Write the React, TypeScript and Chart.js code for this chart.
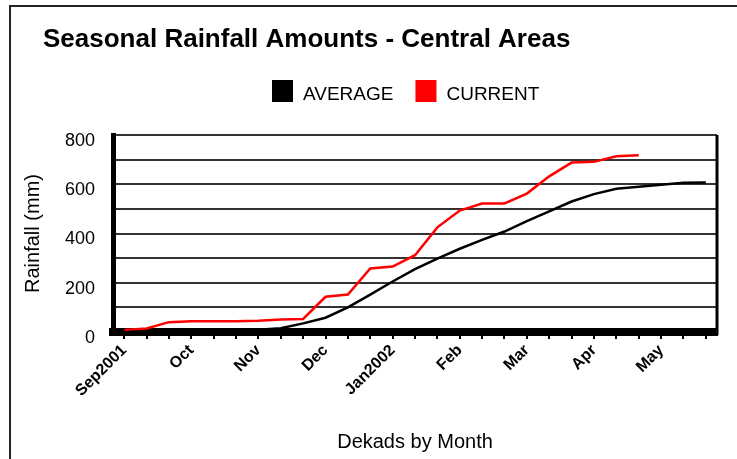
import React, { useEffect, useRef } from 'react';
import { Chart, registerables } from 'chart.js';

Chart.register(...registerables);

const TITLE = 'Seasonal Rainfall Amounts - Central Areas';
const X_TITLE = 'Dekads by Month';
const Y_TITLE = 'Rainfall (mm)';

// month tick labels (one per month, each month has 3 dekads)
const months = ['Sep2001', 'Oct', 'Nov', 'Dec', 'Jan2002', 'Feb', 'Mar', 'Apr', 'May'];
const DEKADS_PER_MONTH = 3;

// cumulative rainfall (mm) per dekad
const average = [0, 1, 2, 3, 5, 7, 9, 15, 35, 58, 100, 152, 205, 255, 298, 338, 374, 408, 450, 490, 530, 560, 582, 590, 598, 606, 607];
const current = [8, 14, 40, 44, 44, 44, 46, 51, 53, 143, 152, 258, 266, 312, 425, 493, 522, 522, 562, 632, 688, 691, 714, 718];

const Y_MIN = 0;
const Y_MAX = 800;
const Y_GRID_STEP = 100;
const Y_LABEL_STEP = 200;

const labels: string[] = months.flatMap((m) => {
  const arr: string[] = [m];
  for (let i = 1; i < DEKADS_PER_MONTH; i++) arr.push('');
  return arr;
});

const FONT = '"Liberation Sans", Arial, Helvetica, sans-serif';

const decor = {
  id: 'decor',
  beforeDraw(chart: any) {
    const { ctx, width, height } = chart;
    ctx.save();
    ctx.fillStyle = '#fff';
    ctx.fillRect(0, 0, width, height);
    ctx.restore();
  },
  afterDraw(chart: any) {
    const { ctx, chartArea: a } = chart;
    ctx.save();
    // outer frame (extends past the right/bottom of the picture)
    ctx.strokeStyle = '#222';
    ctx.lineWidth = 2;
    ctx.strokeRect(10, 6, 2000, 2000);
    // right border of plot
    ctx.strokeStyle = '#000';
    ctx.lineWidth = 3;
    ctx.beginPath();
    ctx.moveTo(a.right, a.top);
    ctx.lineTo(a.right, a.bottom + 3);
    ctx.stroke();
    // title
    ctx.fillStyle = '#000';
    ctx.font = 'bold 26px ' + FONT;
    ctx.textBaseline = 'alphabetic';
    ctx.textAlign = 'left';
    ctx.fillText(TITLE, 43, 47);
    // legend
    ctx.font = '19px ' + FONT;
    let x = 272;
    chart.data.datasets.forEach((ds: any) => {
      ctx.fillStyle = ds.borderColor;
      ctx.fillRect(x, 80, 21, 22);
      ctx.fillStyle = '#000';
      ctx.fillText(ds.label, x + 31, 100);
      x += 31 + ctx.measureText(ds.label).width + 22;
    });
    ctx.restore();
  },
};

export default function App() {
  const ref = useRef<HTMLCanvasElement | null>(null);
  useEffect(() => {
    if (!ref.current) return;
    Chart.defaults.font.family = FONT;
    Chart.defaults.color = '#000';
    const chart = new Chart(ref.current, {
      type: 'line',
      data: {
        labels,
        datasets: [
          {
            label: 'AVERAGE',
            data: average,
            borderColor: '#000000',
            backgroundColor: '#000000',
            borderWidth: 2.5,
            pointRadius: 0,
            tension: 0,
          },
          {
            label: 'CURRENT',
            data: current,
            borderColor: '#ff0000',
            backgroundColor: '#ff0000',
            borderWidth: 2.5,
            pointRadius: 0,
            tension: 0,
          },
        ],
      },
      options: {
        animation: false,
        responsive: true,
        maintainAspectRatio: false,
        layout: { padding: { top: 135, left: 0, right: 20, bottom: 0 } },
        plugins: {
          legend: { display: false },
          title: { display: false },
          tooltip: { enabled: false },
        },
        scales: {
          x: {
            type: 'category',
            offset: true,
            grid: {
              display: true,
              drawOnChartArea: false,
              drawTicks: true,
              tickLength: 7,
              color: '#000',
              lineWidth: 2,
              offset: false,
            },
            border: { display: true, width: 8, color: '#000' },
            ticks: {
              autoSkip: false,
              maxRotation: 45,
              minRotation: 45,
              padding: 2,
              font: { size: 16, weight: 'bold' },
              color: '#000',
            },
            title: {
              display: true,
              text: X_TITLE,
              font: { size: 20 },
              padding: { top: 0, bottom: 5 },
              color: '#000',
            },
            afterFit(scale: any) {
              scale.height = 127;
            },
          },
          y: {
            min: Y_MIN,
            max: Y_MAX,
            grid: {
              display: true,
              drawTicks: false,
              color: '#333',
              lineWidth: 2,
            },
            border: { display: true, width: 5, color: '#000' },
            ticks: {
              stepSize: Y_GRID_STEP,
              padding: 18,
              labelOffset: 6,
              font: { size: 18 },
              color: '#000',
              callback: (v: any) => (Number(v) % Y_LABEL_STEP === 0 ? String(v) : ''),
            },
            title: {
              display: true,
              text: Y_TITLE,
              font: { size: 20 },
              padding: { top: 21, bottom: 0 },
              color: '#000',
            },
            afterFit(scale: any) {
              scale.width = 113;
            },
          },
        },
      },
      plugins: [decor],
    });
    return () => chart.destroy();
  }, []);
  return (
    <div style={{ position: 'fixed', left: 0, top: 0, width: 737, height: 459, background: '#fff', overflow: 'hidden' }}>
      <canvas ref={ref} />
    </div>
  );
}
